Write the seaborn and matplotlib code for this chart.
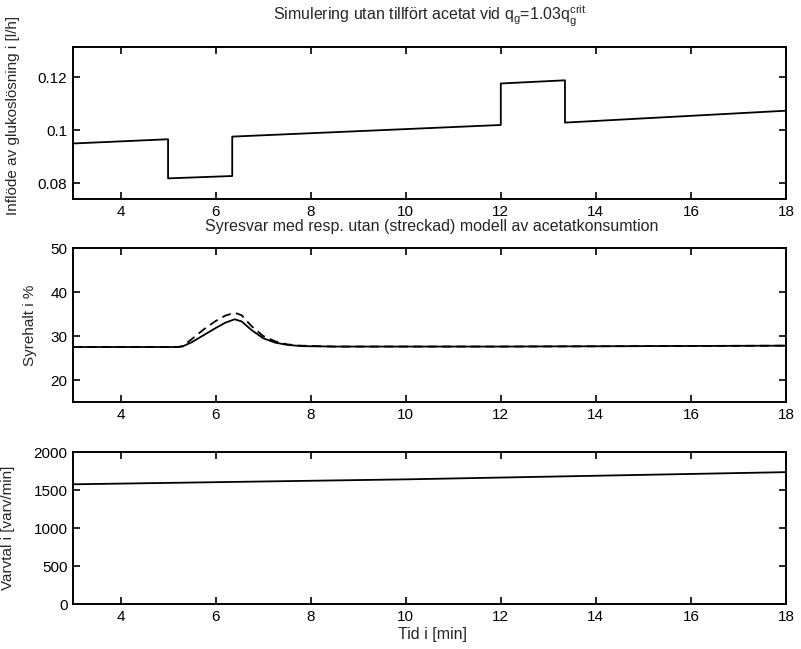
import matplotlib
matplotlib.use("Agg")
import matplotlib.pyplot as plt
import seaborn as sns
import pandas as pd
from matplotlib import font_manager

# ---- data ----
flow_t = [3.0, 5.0, 5.0, 6.35, 6.35, 12.0, 12.0, 13.35, 13.35, 18.0]
flow_v = [0.0950, 0.0966, 0.0818, 0.0827, 0.0976, 0.1020, 0.1177, 0.1189, 0.1029, 0.1074]

oxy_t = [3.0, 5.2, 5.3, 5.5, 5.75, 6.0, 6.2, 6.4, 6.55, 6.75, 7.0, 7.25, 7.5, 7.8, 8.5, 12.0, 18.0]
oxy_solid = [27.5, 27.5, 27.6, 28.6, 30.2, 31.8, 33.0, 33.8, 33.3, 31.4, 29.5, 28.5, 28.0, 27.7, 27.6, 27.6, 27.8]
oxy_dashed = [27.5, 27.5, 27.7, 29.3, 31.5, 33.4, 34.6, 35.3, 34.7, 32.3, 30.0, 28.8, 28.1, 27.8, 27.6, 27.6, 27.8]

rpm_t = [3.0, 10.0, 18.0]
rpm_v = [1575, 1640, 1735]

xticks = [4, 6, 8, 10, 12, 14, 16, 18]
flow_ticks = [0.08, 0.1, 0.12]
flow_ticklabels = ["0.08", "0.1", "0.12"]
oxy_ticks = [20, 30, 40, 50]
rpm_ticks = [0, 500, 1000, 1500, 2000]

sns.set_theme(style="ticks")
avail = {f.name for f in font_manager.fontManager.ttflist}
base_font = "Liberation Sans" if "Liberation Sans" in avail else "DejaVu Sans"
narrow_font = "Liberation Sans Narrow" if "Liberation Sans Narrow" in avail else base_font
plt.rcParams["font.family"] = [base_font, "DejaVu Sans"]
plt.rcParams["mathtext.fontset"] = "custom"
plt.rcParams["mathtext.rm"] = narrow_font
plt.rcParams["mathtext.it"] = narrow_font

W, H = 801, 649
fig = plt.figure(figsize=(W / 100, H / 100), dpi=100)
fig.patch.set_facecolor("white")

L, R = 73, 786
boxes = [(47, 199), (248, 402), (452, 604)]
axes = []
for top, bot in boxes:
    ax = fig.add_axes([L / W, 1 - bot / H, (R - L) / W, (bot - top) / H])
    axes.append(ax)

ax1, ax2, ax3 = axes

df1 = pd.DataFrame({"t": flow_t, "v": flow_v})
sns.lineplot(data=df1, x="t", y="v", ax=ax1, estimator=None, sort=False, color="black", linewidth=1.3)
ax1.set_ylim(0.074, 0.1315)
ax1.set_yticks(flow_ticks)
ax1.set_yticklabels(flow_ticklabels)

df2 = pd.DataFrame({"t": oxy_t + oxy_t, "v": oxy_solid + oxy_dashed,
                    "s": ["med"] * len(oxy_t) + ["utan"] * len(oxy_t)})
sns.lineplot(data=df2[df2.s == "utan"], x="t", y="v", ax=ax2, estimator=None, sort=False,
             color="black", linewidth=1.3, linestyle=(0, (5, 3)))
sns.lineplot(data=df2[df2.s == "med"], x="t", y="v", ax=ax2, estimator=None, sort=False,
             color="black", linewidth=1.3)
ax2.set_ylim(15, 50)
ax2.set_yticks(oxy_ticks)

df3 = pd.DataFrame({"t": rpm_t, "v": rpm_v})
sns.lineplot(data=df3, x="t", y="v", ax=ax3, estimator=None, sort=False, color="black", linewidth=1.3)
ax3.set_ylim(0, 2000)
ax3.set_yticks(rpm_ticks)

for ax in axes:
    ax.set_xlim(3, 18)
    ax.set_xticks(xticks)
    ax.tick_params(direction="in", top=True, right=True, length=5, width=1.2,
                   labelsize=11, pad=4, colors="black")
    for s in ax.spines.values():
        s.set_linewidth(1.4)
        s.set_color("black")
    ax.set_xlabel("")
    ax.set_ylabel("")

ax1.set_ylabel("Inflöde av glukoslösning i [l/h]", fontsize=11)
ax1.yaxis.set_label_coords(-0.074, 0.55)
ax2.set_ylabel("Syrehalt i %", fontsize=11)
ax2.yaxis.set_label_coords(-0.050, 0.5)
ax3.set_ylabel("Varvtal i [varv/min]", fontsize=11)
ax3.yaxis.set_label_coords(-0.081, 0.5)

fig.text(430 / W, 1 - 16 / H, r"Simulering utan tillfört acetat vid q$_g$=1.03q$_g^{crit}$",
         ha="center", va="center", fontsize=11.5, family=[narrow_font, "DejaVu Sans"])
fig.text(432 / W, 1 - 226 / H, "Syresvar med resp. utan (streckad) modell av acetatkonsumtion",
         ha="center", va="center", fontsize=11.5, family=[narrow_font, "DejaVu Sans"])
fig.text(432 / W, 1 - 635 / H, "Tid i [min]",
         ha="center", va="center", fontsize=11.5, family=[narrow_font, "DejaVu Sans"])

fig.savefig("out.png", dpi=100, facecolor="white")
